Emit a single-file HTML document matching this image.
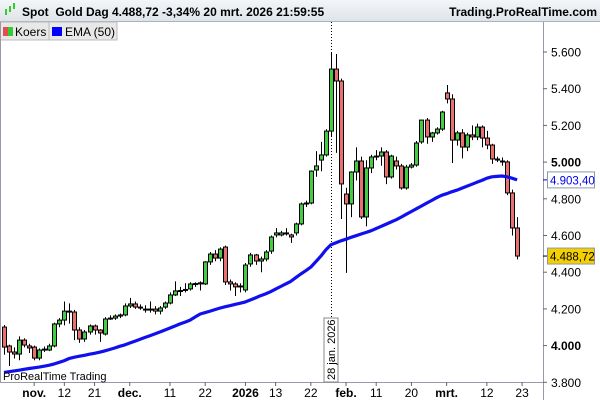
<!DOCTYPE html>
<html><head><meta charset="utf-8"><style>
body{margin:0;width:600px;height:400px;overflow:hidden;background:#fff;font-family:"Liberation Sans",sans-serif}
#hdr{position:absolute;left:0;top:0;width:600px;height:22px;background:linear-gradient(#f4f6f8,#dfe4ea);border-bottom:1px solid #a9b3bd;box-sizing:border-box}
</style></head><body>
<div id="hdr"></div>
<svg id="c" width="600" height="400" style="position:absolute;left:0;top:0">
<g id="hd">
<g><rect x="5" y="9" width="2" height="6" fill="#3c3"/><rect x="9" y="6" width="2" height="6" fill="#3c3"/><rect x="13" y="3" width="2" height="6" fill="#3c3"/></g>
<text x="22" y="16" font-size="12" font-weight="bold" fill="#000">Spot&#160;&#160;Gold Dag 4.488,72 -3,34% 20 mrt. 2026 21:59:55</text>
<text x="597" y="16" font-size="12" font-weight="bold" text-anchor="end" fill="#000">Trading.ProRealTime.com</text>
</g>
<g>
<rect x="0" y="22" width="49" height="18" fill="#e8e8e8" stroke="#bbb"/>
<rect x="3" y="27" width="5" height="9" fill="#e05050"/><rect x="8" y="27" width="5" height="9" fill="#3c3"/>
<text x="15" y="36" font-size="12" fill="#000">Koers</text>
<rect x="49" y="22" width="68" height="18" fill="#e8e8e8" stroke="#bbb"/>
<rect x="52" y="27" width="10" height="9" fill="#0000ff"/>
<text x="65" y="36" font-size="12" fill="#000">EMA (50)</text>
</g>
<line x1="543.5" y1="22" x2="543.5" y2="400" stroke="#99a"/>
<line x1="0" y1="382.5" x2="543" y2="382.5" stroke="#99a"/>
<line x1="0.5" y1="22" x2="0.5" y2="382" stroke="#99a"/>
<g id="yax"></g><g id="xax"></g>
<line x1="331.5" y1="22" x2="331.5" y2="382" stroke="#000" stroke-dasharray="1,2"/>
<rect x="324" y="318" width="14" height="64" fill="#fff" stroke="#888"/>
<text transform="translate(335,380) rotate(-90)" font-size="11" fill="#000">28 jan. 2026</text>
<g id="candles"></g>
<path id="ema" fill="none" stroke="#1010ee" stroke-width="3.2" stroke-linejoin="round"/>
<text x="3" y="380" font-size="11" fill="#000">ProRealTime Trading</text>
<g id="tags"></g>
</svg>
<script>
const opens=[4101,3998,3965,3954,4030,3998,3992,3932,3976,3976,3998,4118,4139,4188,4183,4085,4036,4074,4107,4085,4063,4145,4150,4161,4167,4216,4227,4210,4199,4199,4199,4188,4210,4232,4276,4298,4303,4309,4336,4336,4336,4456,4499,4477,4537,4347,4336,4320,4303,4445,4494,4461,4472,4515,4603,4603,4614,4603,4614,4663,4772,4777,4957,5011,5039,5169,5507,5442,4826,4772,4946,5006,4701,4968,5028,5033,5055,4919,5006,4979,4859,4973,4984,5110,5229,5137,5159,5180,5377,5344,5120,5159,5082,5148,5137,5191,5131,5093,5017,5006,5001,4832,4641];
const closes=[3992,3965,3954,4030,4003,3987,3932,3976,3981,3998,4118,4139,4188,4183,4085,4036,4074,4107,4085,4069,4145,4150,4161,4167,4216,4227,4210,4205,4194,4195,4188,4205,4232,4276,4298,4300,4306,4336,4338,4342,4456,4499,4477,4526,4347,4336,4320,4325,4439,4494,4461,4472,4510,4592,4614,4614,4610,4592,4663,4772,4777,4951,4979,5039,5169,5507,5442,4881,4772,4946,5006,4701,4968,5028,5033,5055,4919,5033,4979,4859,4973,4984,5104,5229,5137,5159,5180,5273,5344,5120,5159,5082,5148,5137,5191,5131,5093,5017,5011,5001,4832,4641,4488];
const highs=[4112,4005,3990,4050,4040,4010,4000,3985,3995,4010,4125,4150,4240,4230,4195,4100,4085,4115,4115,4090,4155,4165,4170,4175,4230,4260,4240,4225,4220,4240,4215,4215,4240,4290,4350,4320,4340,4345,4345,4350,4460,4510,4520,4535,4545,4360,4345,4340,4450,4505,4500,4485,4520,4600,4640,4625,4640,4610,4670,4780,4790,4955,5060,5110,5180,5595,5589,5455,4860,4950,5080,5030,5010,5040,5065,5080,5065,5040,5030,4990,4985,4995,5115,5230,5240,5165,5190,5280,5420,5370,5170,5180,5160,5200,5210,5200,5170,5100,5030,5025,5010,4850,4700];
const lows=[3950,3889,3930,3920,3990,3960,3920,3920,3965,3970,3990,4100,4110,4120,4030,4015,4020,4060,4060,4020,4055,4140,4140,4150,4160,4205,4200,4195,4180,4180,4170,4170,4200,4225,4270,4270,4290,4300,4320,4300,4330,4440,4460,4460,4330,4300,4270,4290,4290,4430,4440,4400,4460,4500,4590,4595,4600,4560,4600,4655,4755,4770,4920,4950,5030,5140,5050,4690,4396,4700,4900,4690,4650,4940,5010,4980,4880,4910,4960,4850,4850,4965,4975,5100,5100,5110,5150,5170,5320,4995,5090,5020,5060,5120,5120,5080,5070,4990,5000,4980,4820,4600,4470];
const emaVals=[3854,3858,3862,3866,3871,3875,3879,3883,3888,3893,3900,3909,3918,3930,3937,3942,3947,3953,3958,3964,3971,3979,3987,3996,4004,4014,4024,4034,4044,4054,4064,4074,4085,4096,4107,4118,4128,4139,4156,4172,4180,4188,4197,4205,4212,4218,4225,4231,4238,4249,4260,4272,4282,4294,4308,4322,4336,4350,4370,4390,4408,4428,4458,4488,4522,4550,4561,4571,4580,4590,4599,4608,4617,4626,4638,4650,4662,4674,4686,4701,4716,4731,4746,4761,4776,4791,4806,4819,4828,4838,4847,4857,4868,4879,4890,4900,4912,4920,4922,4924,4920,4912,4903];
const yTicks=[3800,4000,4200,4400,4600,4800,5000,5200,5400,5600];
const yTickLabels=["3.800","4.000","4.200","4.400","4.600","4.800","5.000","5.200","5.400","5.600"];
const xTickIdx=[6,12,18,25,33,40,48,54,61,68,74,81,88,96,103];
const xTickLabels=["nov.","12","21","dec.","11","22","2026","13","22","feb.","11","20","mrt.","12","23"];
const xBold=[true,false,false,true,false,false,true,false,false,true,false,false,true,false,false];
const lastLabel="4.488,72", emaLabel="4.903,40";

const NS="http://www.w3.org/2000/svg";
const Y=v=>52+(5600-v)*0.1835;
const X=i=>4+i*5.03;
function mk(t,a,p){const e=document.createElementNS(NS,t);for(const k in a)e.setAttribute(k,a[k]);p.appendChild(e);return e;}
const yax=document.getElementById('yax');
yTicks.forEach((v,k)=>{const y=Y(v);
 mk('line',{x1:543,x2:547,y1:y,y2:y,stroke:'#666'},yax);
 const t=mk('text',{x:551,y:y+4.5,'font-size':12,fill:'#000','font-weight':(v%1000===0?'bold':'normal')},yax);
 t.textContent=yTickLabels[k];
 
 
});
const xax=document.getElementById('xax');
xTickIdx.forEach((i,k)=>{const x=X(i);
 mk('line',{x1:x,x2:x,y1:382,y2:386,stroke:'#666'},xax);
 const t=mk('text',{x:x,y:397,'font-size':12,'text-anchor':'middle',fill:'#000','font-weight':xBold[k]?'bold':'normal'},xax);
 t.textContent=xTickLabels[k];
 
 
});
const cg=document.getElementById('candles');
opens.forEach((o,i)=>{const c=closes[i];const x=Math.round(X(i))+0.5;
 const g=mk('g',{},cg);
 
 
 mk('line',{x1:x,x2:x,y1:Y(highs[i]),y2:Y(lows[i]),stroke:'#000'},g);
 const top=Y(Math.max(o,c)),bot=Y(Math.min(o,c));
 mk('rect',{x:x-2,y:top,width:4,height:Math.max(bot-top,1),fill:c>=o?'#44cc44':'#e87070',stroke:'#000','stroke-width':1},g);
});
document.getElementById('ema').setAttribute('d',emaVals.map((v,i)=>(i?'L':'M')+X(i).toFixed(1)+' '+Y(v).toFixed(1)).join(''));
const tg=document.getElementById('tags');
function tag(v,txt,bg,fg,name){const y=Y(v);
 mk('line',{x1:543,x2:547,y1:y,y2:y,stroke:fg},tg);
 const r=mk('rect',{x:547.5,y:y-8,width:47,height:16,fill:bg,stroke:'#8a9aaa'},tg);
 
 
 const t=mk('text',{x:550,y:y+4.5,'font-size':11.5,fill:fg},tg);t.textContent=txt;
 
 
}
tag(emaVals[emaVals.length-1],emaLabel,'#fff','#0000ee','ema-value-tag');
tag(closes[closes.length-1],lastLabel,'#f5d000','#000','last-price-tag');
</script>
</body></html>
